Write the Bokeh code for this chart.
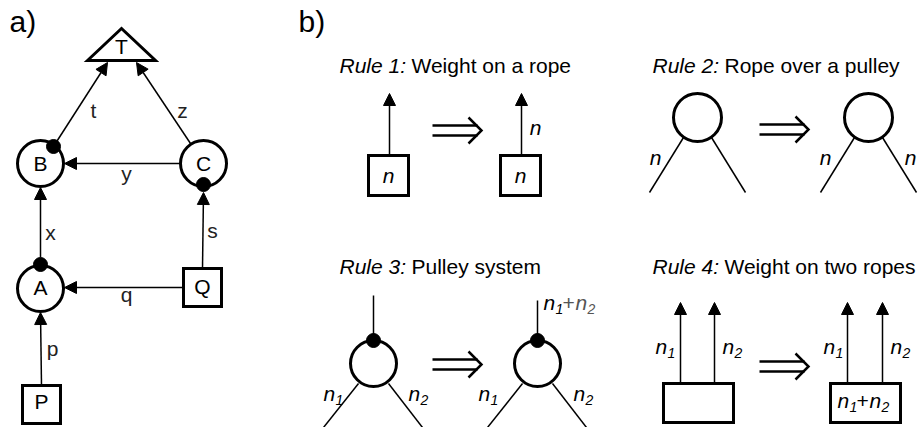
from bokeh.plotting import figure
from bokeh.models import Range1d, Arrow, NormalHead
from bokeh.embed import file_html
from bokeh.resources import INLINE
from bokeh.core.properties import value

FONT = "Liberation Sans"

# ---------------- panel a) : graph ----------------
circle_names = ["A", "B", "C"]
circle_x = [40, 40, 203]
circle_y = [288, 163, 163]
box_names = ["P", "Q"]
box_x = [41, 202]
box_y = [404, 287]
tri_x = [87, 121, 155]
tri_y = [60, 28, 60]
dot_x = [40, 53, 203]
dot_y = [264, 146, 184]

node_text = ["T", "B", "C", "A", "Q", "P"]
node_tx = [121, 40, 203, 40, 202, 41]
node_ty = [54, 171, 171, 295, 294, 409]

edge_names = ["p", "x", "q", "s", "y", "t", "z"]
edge_x0 = [41, 40, 183, 202, 180, 53, 190]
edge_y0 = [385, 257, 287, 268, 163, 146, 143]
edge_x1 = [40, 40, 64, 203, 64, 107, 136]
edge_y1 = [312, 187, 287, 192, 163, 62, 62]
edge_lx = [52, 50, 126, 212, 126, 93, 182]
edge_ly = [356, 240, 302, 238, 181, 118, 118]

panel_labels = ["a)", "b)"]
panel_lx = [9, 298]
panel_ly = [32, 32]

# ---------------- panel b) : rules ----------------
rule_prefix = ["Rule 1:", "Rule 2:", "Rule 3:", "Rule 4:"]
rule_desc = ["Weight on a rope", "Rope over a pulley", "Pulley system", "Weight on two ropes"]
rule_px = [339, 652, 339, 652]
rule_py = [73, 73, 274, 274]

implies_x = [432, 759, 432, 759]
implies_y = [130, 129, 364, 366]

# rule 1 : weights (boxes) and ropes (arrows)
r1_box_x = [388, 520]
r1_box_y = [175, 175]
r1_arrow_x = [389, 521]
r1_arrow_y0 = [155, 155]
r1_arrow_y1 = [93, 93]

# rule 2 and 3 : pulleys
pulley_x = [697, 868, 373, 537]
pulley_y = [117, 117, 363, 363]
pulley_r = [24, 24, 23, 23]
rope_x0 = [683, 711, 854, 882, 358, 388, 522, 552]
rope_y0 = [137, 137, 137, 137, 383, 383, 383, 383]
rope_x1 = [649, 745, 820, 916, 323, 422, 487, 586]
rope_y1 = [192, 192, 192, 192, 427, 427, 427, 427]
r3_dot_x = [373, 537]
r3_dot_y = [340, 340]
r3_top_y = [295, 300]

# rule 4 : weights on two ropes
r4_box_x = [698, 865]
r4_box_y = [402.5, 402.5]
r4_arrow_x = [680, 714, 847, 882]
r4_arrow_y0 = [383, 383, 383, 383]
r4_arrow_y1 = [302, 302, 302, 302]

# plain "n" labels
n_x = [388, 520, 535, 655, 825, 910]
n_y = [183, 183, 135, 165, 165, 165]
# subscripted labels n_i
sub_x = [323, 408, 478, 573, 655, 722, 823, 890]
sub_y = [401, 401, 401, 401, 354, 354, 354, 354]
sub_i = ["1", "2", "1", "2", "1", "2", "1", "2"]
# sums n1+n2
sum_x = [543, 837]
sum_y = [310, 408]
sum_color = ["#555555", "black"]

# ---------------- figure ----------------
p = figure(width=918, height=427, x_range=Range1d(0, 918), y_range=Range1d(427, 0),
           x_axis_type=None, y_axis_type=None, output_backend="svg",
           toolbar_location=None, min_border=0)
p.grid.visible = False
p.outline_line_color = None
p.background_fill_color = "white"
p.border_fill_color = "white"


def arrow(x0, y0, x1, y1):
    p.add_layout(Arrow(x_start=x0, y_start=y0, x_end=x1, y_end=y1,
                       line_width=1.5, line_color="black",
                       end=NormalHead(size=12, fill_color="black", line_color="black", line_width=1)))


def text(xs, ys, ss, size=21, italic=False, align="center", color="black"):
    shift = 0.38 * size  # compensate baseline placement of the svg text
    p.text(x=xs, y=[y - shift for y in ys], text=ss, text_font=value(FONT),
           text_font_size=f"{size}px",
           text_font_style="italic" if italic else "normal", text_align=align,
           text_baseline="alphabetic", text_color=color)


def boxes(cx, cy, w, h):
    xs = [[x - w / 2, x + w / 2, x + w / 2, x - w / 2] for x in cx]
    ys = [[y - h / 2, y - h / 2, y + h / 2, y + h / 2] for y in cy]
    p.patches(xs, ys, fill_color="white", line_color="black", line_width=3, line_join="miter")


# panel a
for x0, y0, x1, y1 in zip(edge_x0, edge_y0, edge_x1, edge_y1):
    arrow(x0, y0, x1, y1)
p.circle(x=circle_x, y=circle_y, radius=23, fill_color="white", line_color="black", line_width=3)
boxes(box_x, box_y, 38, 38)
p.patch(tri_x, tri_y, fill_color="white", line_color="black", line_width=3, line_join="miter")
p.circle(x=dot_x, y=dot_y, radius=7, fill_color="black", line_color="black")
text(node_tx, node_ty, node_text, size=21)
text(edge_lx, edge_ly, edge_names, size=21, color="#222222")
text(panel_lx, panel_ly, panel_labels, size=30, align="left")

# panel b titles
text(rule_px, rule_py, rule_prefix, size=21, italic=True, align="left")
text([x + 72 for x in rule_px], rule_py, rule_desc, size=21, align="left")

# implication arrows
p.segment(x0=[x for x in implies_x] * 2, y0=[y - 5 for y in implies_y] + [y + 5 for y in implies_y],
          x1=[x + 45 for x in implies_x] * 2, y1=[y - 5 for y in implies_y] + [y + 5 for y in implies_y],
          line_width=2.5, line_color="black")
p.multi_line(xs=[[x + 36, x + 49, x + 36] for x in implies_x],
             ys=[[y - 13, y, y + 13] for y in implies_y],
             line_width=2.5, line_color="black", line_join="miter")

# rule 1
for x, y0, y1 in zip(r1_arrow_x, r1_arrow_y0, r1_arrow_y1):
    arrow(x, y0, x, y1)
boxes(r1_box_x, r1_box_y, 40, 40)

# rules 2 and 3
p.segment(x0=rope_x0, y0=rope_y0, x1=rope_x1, y1=rope_y1, line_width=1.5, line_color="black")
p.segment(x0=r3_dot_x, y0=r3_top_y, x1=r3_dot_x, y1=r3_dot_y, line_width=1.5, line_color="black")
p.circle(x=pulley_x, y=pulley_y, radius=pulley_r, fill_color="white", line_color="black", line_width=3)
p.circle(x=r3_dot_x, y=r3_dot_y, radius=7, fill_color="black", line_color="black")

# rule 4
for x, y0, y1 in zip(r4_arrow_x, r4_arrow_y0, r4_arrow_y1):
    arrow(x, y0, x, y1)
boxes(r4_box_x, r4_box_y, 70, 39)

# labels
text(n_x, n_y, ["n"] * len(n_x), size=21, italic=True)
text(sub_x, sub_y, ["n"] * len(sub_x), size=21, italic=True, align="left")
text([x + 12 for x in sub_x], [y + 4 for y in sub_y], sub_i, size=14, italic=True, align="left")
for x, y, c in zip(sum_x, sum_y, sum_color):
    text([x], [y], ["n"], size=21, italic=True, align="left")
    text([x + 12], [y + 4], ["1"], size=14, italic=True, align="left")
    text([x + 19], [y], ["+"], size=21, align="left", color=c)
    text([x + 32], [y], ["n"], size=21, italic=True, align="left", color=c)
    text([x + 44], [y + 4], ["2"], size=14, italic=True, align="left", color=c)

open("out.html", "w").write(file_html(p, INLINE))
